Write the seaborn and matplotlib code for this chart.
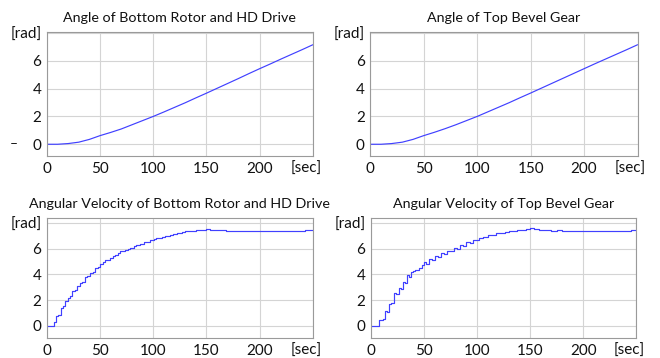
import matplotlib
matplotlib.use("Agg")
from matplotlib import pyplot as plt
from matplotlib.transforms import ScaledTranslation
import pandas as pd
import seaborn as sns

# angle curves
t_angle = [0, 10, 20, 30, 40, 50, 60, 70, 80, 90, 100, 110, 120, 130, 140,
           150, 160, 170, 180, 190, 200, 210, 220, 230, 240, 250]
angle_bottom = [0, 0.0, 0.05, 0.15, 0.35, 0.62, 0.85, 1.1, 1.4, 1.7, 2.0, 2.32,
                2.65, 2.98, 3.33, 3.67, 4.02, 4.37, 4.72, 5.08, 5.43, 5.77,
                6.12, 6.46, 6.8, 7.15]
angle_top = [0, 0.0, 0.05, 0.15, 0.35, 0.62, 0.86, 1.12, 1.4, 1.7, 2.0, 2.33,
             2.66, 2.99, 3.34, 3.68, 4.03, 4.38, 4.73, 5.08, 5.43, 5.78,
             6.12, 6.46, 6.8, 7.15]

# angular velocity (staircase)
t_vel_bottom = [0, 7, 9, 10.5, 13, 15, 17, 20, 22, 24, 26, 28, 31, 33, 36, 38,
                41, 43, 45, 48, 50, 53, 55, 59, 62, 64, 67, 69, 73, 76, 78, 82,
                84, 88, 91, 95, 97, 101, 103, 108, 111, 116, 119, 122, 127, 130,
                135, 140, 145, 150, 153, 157, 162, 168, 175, 180, 200, 230, 232,
                236, 238, 243, 250]
vel_bottom = [0, 0.3, 0.75, 0.85, 1.4, 1.55, 1.9, 2.2, 2.3, 2.7, 2.8, 3.1,
              3.35, 3.45, 3.8, 3.85, 4.1, 4.2, 4.5, 4.55, 4.85, 5.0, 5.15, 5.3,
              5.45, 5.55, 5.65, 5.8, 5.9, 6.0, 6.1, 6.2, 6.3, 6.4, 6.5, 6.55,
              6.65, 6.75, 6.85, 6.9, 7.0, 7.1, 7.15, 7.25, 7.3, 7.35, 7.4, 7.45,
              7.5, 7.55, 7.5, 7.45, 7.45, 7.4, 7.4, 7.35, 7.35, 7.4, 7.35, 7.4,
              7.4, 7.45, 7.45]
t_vel_top = [0, 8, 11, 13, 15, 17, 19, 22, 24, 26, 28, 30, 32, 34, 36, 38, 40,
             42, 45, 48, 50, 52, 55, 58, 60, 63, 66, 69, 72, 75, 78, 81, 84, 87,
             90, 93, 96, 99, 102, 106, 110, 114, 118, 122, 126, 130, 134, 138,
             142, 146, 150, 154, 158, 162, 166, 170, 175, 180, 190, 200, 210,
             220, 230, 240, 245, 250]
vel_top = [0, 0.45, 0.5, 1.15, 1.1, 1.7, 1.8, 2.55, 2.45, 2.95, 2.9, 3.45,
           3.35, 3.95, 3.8, 4.2, 4.3, 4.35, 4.5, 4.7, 4.95, 4.85, 5.2, 5.1,
           5.45, 5.35, 5.65, 5.6, 5.85, 5.8, 6.1, 6.0, 6.3, 6.2, 6.5, 6.45, 6.7,
           6.65, 6.85, 6.95, 7.05, 7.1, 7.2, 7.25, 7.3, 7.35, 7.4, 7.45, 7.5,
           7.55, 7.6, 7.55, 7.5, 7.45, 7.45, 7.4, 7.45, 7.4, 7.35, 7.4, 7.35,
           7.4, 7.35, 7.4, 7.45, 7.45]

titles = ["Angle of Bottom Rotor and HD Drive", "Angle of Top Bevel Gear",
          "Angular Velocity of Bottom Rotor and HD Drive",
          "Angular Velocity of Top Bevel Gear"]
x_ticks = [0, 50, 100, 150, 200, 250]
x_labels = ["0", "50", "100", "150", "200", "[sec]"]
y_ticks = [0, 2, 4, 6, 8]
y_labels = ["0", "2", "4", "6", "[rad]"]

sns.set_style("white")
plt.rcParams["font.family"] = ["Lato", "DejaVu Sans"]

fig = plt.figure(figsize=(6.6, 3.58), dpi=100)
rects = [[0.071, 0.564, 0.403, 0.346], [0.561, 0.564, 0.405, 0.346],
         [0.071, 0.056, 0.403, 0.335], [0.562, 0.056, 0.402, 0.335]]
series = [(t_angle, angle_bottom, None), (t_angle, angle_top, None),
          (t_vel_bottom, vel_bottom, "steps-post"),
          (t_vel_top, vel_top, "steps-post")]
line_color = "#4040ff"

for i, (rect, (tx, ty, ds), title) in enumerate(zip(rects, series, titles)):
    ax = fig.add_axes(rect)
    df = pd.DataFrame({"t": tx, "v": ty})
    kw = {"drawstyle": ds} if ds else {}
    sns.lineplot(data=df, x="t", y="v", ax=ax, color=line_color, lw=0.85,
                 estimator=None, **kw)
    ax.set_xlim(0, 250)
    if i < 2:
        ax.set_ylim(-0.85, 8.05)
    else:
        ax.set_ylim(-0.95, 8.4)
    ax.set_xticks(x_ticks)
    ax.set_xticklabels(x_labels)
    ax.set_yticks(y_ticks)
    ax.set_yticklabels(y_labels)
    ax.set_xlabel("")
    ax.set_ylabel("")
    ax.grid(True, color="#d4d4d4", lw=0.8)
    for s in ax.spines.values():
        s.set_color("#9a9a9a")
        s.set_linewidth(0.8)
    ax.tick_params(length=0, labelsize=11, pad=4, colors="#111111")
    # shift the unit label left so it sits under the axis end
    sec = ax.get_xticklabels()[-1]
    sec.set_transform(sec.get_transform() +
                      ScaledTranslation(-7 / 100, 0, fig.dpi_scale_trans))
    ax.set_title(title, fontsize=10.3, pad=7, color="#111111")

fig.text(0.015, 0.597, "–", fontsize=10, color="#111111", va="center")

fig.savefig("out.png", dpi=100)
